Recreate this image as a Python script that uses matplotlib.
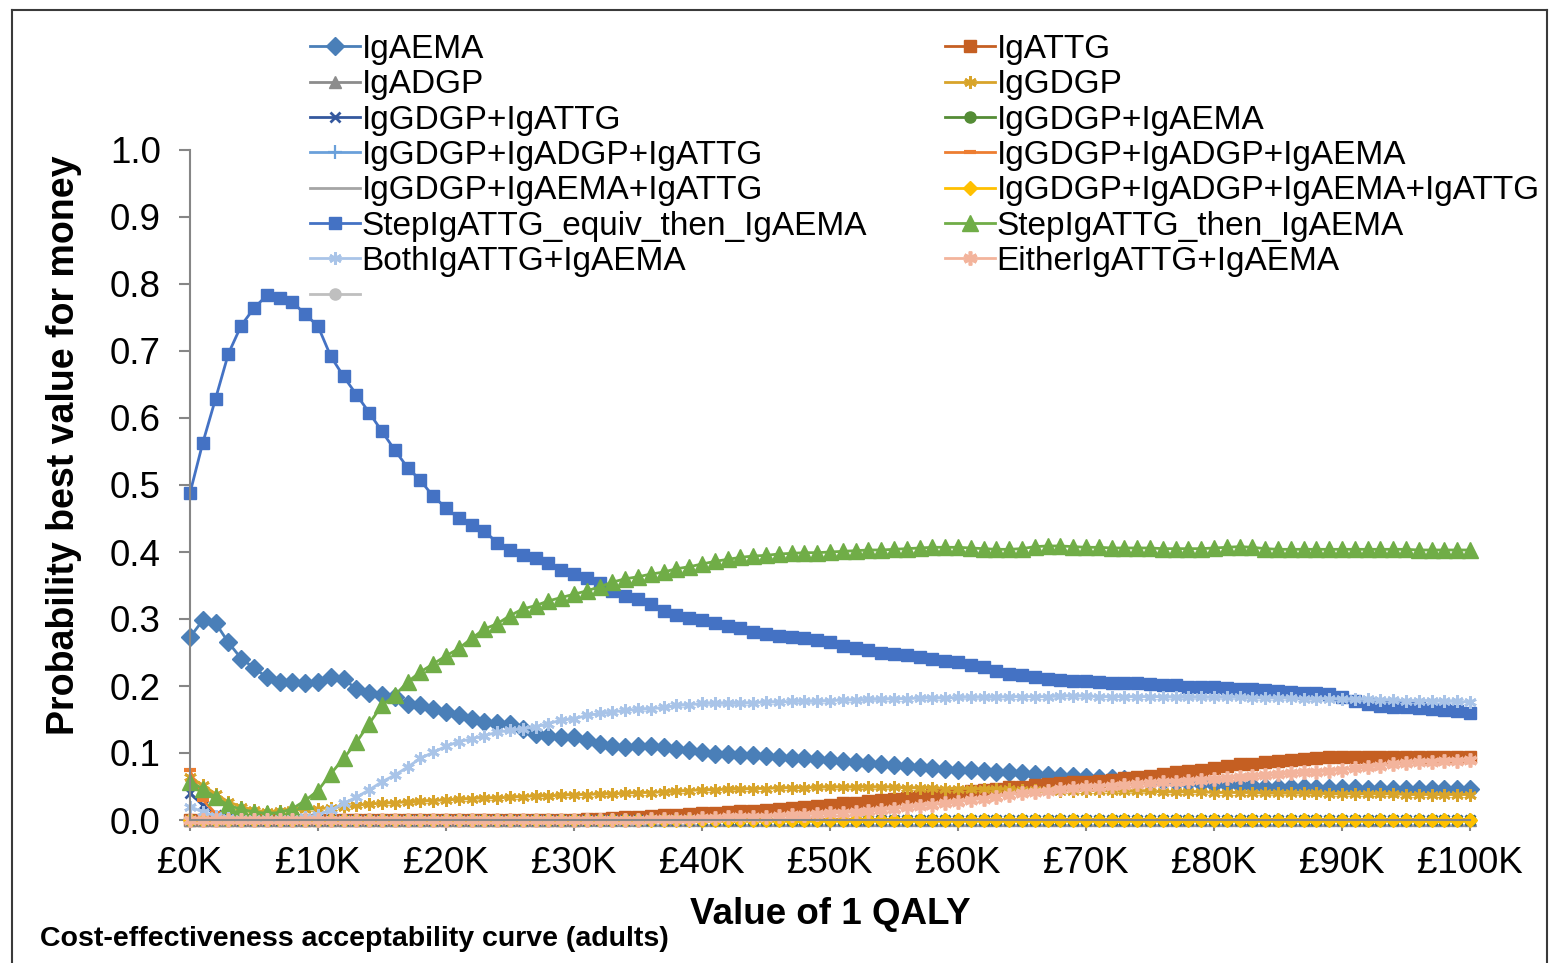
import matplotlib
matplotlib.use("Agg")
import matplotlib.pyplot as plt
from matplotlib.lines import Line2D
from matplotlib.ticker import FixedLocator, FuncFormatter

plt.rcParams['font.family'] = ['Liberation Sans', 'DejaVu Sans']

# x grid: value of 1 QALY in £ thousands
qaly_k = list(range(0, 101))

ig_aema = [0.273, 0.298, 0.294, 0.265, 0.241, 0.227, 0.213, 0.206, 0.206, 0.205,
           0.206, 0.213, 0.210, 0.196, 0.189, 0.186, 0.184, 0.173, 0.171, 0.166,
           0.161, 0.157, 0.151, 0.146, 0.145, 0.143, 0.136, 0.129, 0.126, 0.124,
           0.124, 0.119, 0.114, 0.110, 0.109, 0.111, 0.111, 0.109, 0.106, 0.104,
           0.101, 0.099, 0.099, 0.097, 0.097, 0.095, 0.094, 0.093, 0.092, 0.091,
           0.089, 0.088, 0.086, 0.085, 0.083, 0.082, 0.081, 0.079, 0.077, 0.076,
           0.075, 0.074, 0.073, 0.072, 0.071, 0.070, 0.068, 0.067, 0.066, 0.065,
           0.064, 0.063, 0.062, 0.061, 0.060, 0.059, 0.058, 0.057, 0.056, 0.055,
           0.054, 0.053, 0.052, 0.051, 0.050, 0.050, 0.049, 0.049, 0.048, 0.048,
           0.048, 0.048, 0.047, 0.047, 0.047, 0.047, 0.047, 0.046, 0.046, 0.046,
           0.046]

ig_attg = [0.0] * 31 + [
           0.001, 0.002, 0.003, 0.004, 0.005, 0.006, 0.007, 0.008, 0.009,
           0.010, 0.011, 0.012, 0.013, 0.014, 0.015, 0.016, 0.018, 0.019, 0.021,
           0.023, 0.025, 0.026, 0.028, 0.030, 0.031, 0.033, 0.035, 0.037, 0.039,
           0.041, 0.043, 0.045, 0.047, 0.049, 0.050, 0.052, 0.053, 0.055, 0.056,
           0.057, 0.058, 0.060, 0.062, 0.064, 0.066, 0.069, 0.071, 0.073, 0.075,
           0.077, 0.080, 0.083, 0.084, 0.086, 0.088, 0.090, 0.091, 0.093, 0.094,
           0.094, 0.094, 0.094, 0.094, 0.094, 0.094, 0.094, 0.094, 0.094, 0.094,
           0.094]

ig_adgp = [0.0] * 101

ig_gdgp = [0.064, 0.052, 0.039, 0.027, 0.020, 0.015, 0.012, 0.014, 0.015, 0.016,
           0.017, 0.018, 0.020, 0.022, 0.024, 0.025, 0.026, 0.027, 0.028, 0.029,
           0.030, 0.031, 0.032, 0.033, 0.033, 0.034, 0.035, 0.036, 0.036, 0.037,
           0.038, 0.038, 0.039, 0.039, 0.040, 0.041, 0.041, 0.042, 0.043, 0.044,
           0.045, 0.045, 0.046, 0.046, 0.047, 0.047, 0.048, 0.048, 0.048, 0.049,
           0.049, 0.049, 0.049, 0.049, 0.049, 0.049, 0.048, 0.048, 0.048, 0.047,
           0.047, 0.047, 0.046, 0.046, 0.046, 0.045, 0.045, 0.045, 0.044, 0.044,
           0.044, 0.044, 0.043, 0.043, 0.043, 0.043, 0.042, 0.042, 0.042, 0.042,
           0.041, 0.041, 0.041, 0.041, 0.040, 0.040, 0.040, 0.040, 0.040, 0.039,
           0.039, 0.039, 0.039, 0.039, 0.039, 0.038, 0.038, 0.038, 0.038, 0.038,
           0.038]

gdgp_attg = [0.040, 0.022, 0.008, 0.003] + [0.0] * 97
gdgp_aema = [0.0] * 101
gdgp_adgp_attg = [0.0] * 101
gdgp_adgp_aema = [0.074, 0.030, 0.010, 0.002] + [0.0] * 97
gdgp_aema_attg = [0.0] * 101
gdgp_adgp_aema_attg = [0.0] * 101

step_equiv = [0.488, 0.563, 0.629, 0.696, 0.738, 0.764, 0.783, 0.779, 0.773, 0.755,
              0.737, 0.692, 0.662, 0.635, 0.608, 0.580, 0.552, 0.526, 0.507, 0.483,
              0.466, 0.450, 0.440, 0.431, 0.414, 0.403, 0.396, 0.391, 0.383, 0.373,
              0.367, 0.361, 0.353, 0.342, 0.335, 0.330, 0.322, 0.312, 0.306, 0.302,
              0.299, 0.294, 0.290, 0.287, 0.281, 0.277, 0.275, 0.273, 0.272, 0.268,
              0.265, 0.260, 0.257, 0.254, 0.250, 0.248, 0.247, 0.244, 0.241, 0.238,
              0.236, 0.232, 0.228, 0.222, 0.218, 0.216, 0.213, 0.211, 0.209, 0.208,
              0.207, 0.206, 0.205, 0.205, 0.204, 0.203, 0.202, 0.201, 0.199, 0.199,
              0.198, 0.197, 0.196, 0.195, 0.194, 0.192, 0.191, 0.190, 0.189, 0.188,
              0.184, 0.178, 0.173, 0.170, 0.169, 0.168, 0.167, 0.165, 0.164, 0.163,
              0.159]

step_then = [0.057, 0.047, 0.034, 0.022, 0.016, 0.012, 0.010, 0.011, 0.017, 0.029,
             0.044, 0.069, 0.092, 0.116, 0.144, 0.171, 0.186, 0.206, 0.221, 0.233,
             0.245, 0.256, 0.271, 0.285, 0.293, 0.305, 0.315, 0.320, 0.327, 0.332,
             0.337, 0.342, 0.348, 0.355, 0.360, 0.363, 0.367, 0.370, 0.375, 0.378,
             0.382, 0.386, 0.389, 0.392, 0.394, 0.395, 0.397, 0.398, 0.399, 0.399,
             0.400, 0.401, 0.402, 0.403, 0.403, 0.404, 0.405, 0.406, 0.407, 0.407,
             0.407, 0.406, 0.405, 0.404, 0.404, 0.405, 0.408, 0.409, 0.409, 0.408,
             0.407, 0.407, 0.406, 0.406, 0.406, 0.406, 0.405, 0.405, 0.405, 0.405,
             0.406, 0.407, 0.408, 0.407, 0.405, 0.404, 0.404, 0.404, 0.404, 0.404,
             0.404, 0.404, 0.404, 0.404, 0.404, 0.404, 0.403, 0.403, 0.403, 0.403,
             0.403]

both = [0.020, 0.012, 0.006, 0.003, 0.002, 0.001, 0.001, 0.001, 0.002, 0.004,
        0.008, 0.015, 0.025, 0.034, 0.045, 0.057, 0.067, 0.079, 0.092, 0.101,
        0.110, 0.117, 0.121, 0.126, 0.131, 0.134, 0.136, 0.139, 0.144, 0.149,
        0.151, 0.156, 0.159, 0.161, 0.164, 0.165, 0.166, 0.168, 0.171, 0.172,
        0.174, 0.174, 0.174, 0.174, 0.175, 0.176, 0.176, 0.177, 0.177, 0.177,
        0.178, 0.179, 0.179, 0.180, 0.180, 0.181, 0.181, 0.182, 0.182, 0.182,
        0.183, 0.183, 0.183, 0.183, 0.184, 0.184, 0.184, 0.184, 0.185, 0.185,
        0.185, 0.184, 0.184, 0.184, 0.184, 0.184, 0.184, 0.183, 0.183, 0.183,
        0.183, 0.183, 0.183, 0.182, 0.182, 0.182, 0.182, 0.181, 0.181, 0.181,
        0.180, 0.180, 0.180, 0.179, 0.179, 0.178, 0.178, 0.178, 0.177, 0.177,
        0.176]

either = [0.0] * 36 + [
          0.001, 0.001, 0.002, 0.002,
          0.003, 0.003, 0.004, 0.004, 0.005, 0.005, 0.006, 0.007, 0.008, 0.009,
          0.010, 0.011, 0.012, 0.013, 0.015, 0.017, 0.019, 0.021, 0.023, 0.025,
          0.027, 0.030, 0.032, 0.035, 0.038, 0.040, 0.042, 0.044, 0.046, 0.048,
          0.049, 0.050, 0.051, 0.052, 0.053, 0.055, 0.056, 0.057, 0.058, 0.060,
          0.061, 0.062, 0.064, 0.065, 0.067, 0.068, 0.070, 0.071, 0.072, 0.073,
          0.075, 0.077, 0.079, 0.081, 0.083, 0.085, 0.086, 0.087, 0.088, 0.088,
          0.089]

blank_series = []

series_names = ["IgAEMA", "IgATTG", "IgADGP", "IgGDGP", "IgGDGP+IgATTG",
                "IgGDGP+IgAEMA", "IgGDGP+IgADGP+IgATTG", "IgGDGP+IgADGP+IgAEMA",
                "IgGDGP+IgAEMA+IgATTG", "IgGDGP+IgADGP+IgAEMA+IgATTG",
                "StepIgATTG_equiv_then_IgAEMA", "StepIgATTG_then_IgAEMA",
                "BothIgATTG+IgAEMA", "EitherIgATTG+IgAEMA", ""]
series_values = [ig_aema, ig_attg, ig_adgp, ig_gdgp, gdgp_attg, gdgp_aema,
                 gdgp_adgp_attg, gdgp_adgp_aema, gdgp_aema_attg,
                 gdgp_adgp_aema_attg, step_equiv, step_then, both, either,
                 blank_series]

styles = [
    dict(color="#4a7fb8", marker="D", ms=9),
    dict(color="#c55f22", marker="s", ms=8.5),
    dict(color="#8c8c8c", marker="^", ms=8),
    dict(color="#d8a42a", marker=(6, 2, 0), ms=9, mew=2.0),
    dict(color="#34589e", marker="x", ms=7, mew=2),
    dict(color="#548c35", marker="o", ms=8),
    dict(color="#6aa0da", marker="+", ms=10, mew=1.6),
    dict(color="#ed7d31", marker="_", ms=8, mew=3),
    dict(color="#a5a5a5", marker=None, ms=0),
    dict(color="#ffc000", marker="D", ms=7),
    dict(color="#4472c4", marker="s", ms=9),
    dict(color="#70ad47", marker="^", ms=11),
    dict(color="#a9c4e8", marker=(6, 2, 0), ms=9, mew=2.0),
    dict(color="#f3b49c", marker=(6, 2, 0), ms=10, mew=2.6),
    dict(color="#bfbfbf", marker="o", ms=8),
]

W, H = 1549, 963
fig = plt.figure(figsize=(W / 100, H / 100), dpi=100)
ax = fig.add_axes([190 / W, 1 - 820 / H, 1280 / W, 670 / H])

handles = []
for name, vals, st in zip(series_names, series_values, styles):
    xs = [k * 1000 for k in qaly_k[:len(vals)]]
    line, = ax.plot(xs, vals, color=st["color"], lw=2.0, marker=st["marker"],
                    markersize=st["ms"], markeredgewidth=st.get("mew", 1.0),
                    markerfacecolor=st["color"], markeredgecolor=st["color"],
                    clip_on=False)
    handles.append(line)

ax.set_xlim(0, 100000)
ax.set_ylim(0, 1.0)
ax.xaxis.set_major_locator(FixedLocator([k * 1000 for k in range(0, 101, 10)]))
ax.xaxis.set_major_formatter(FuncFormatter(lambda v, p: "£%dK" % round(v / 1000)))
ax.yaxis.set_major_locator(FixedLocator([i / 10 for i in range(11)]))
ax.yaxis.set_major_formatter(FuncFormatter(lambda v, p: "%.1f" % v))

for s in ["top", "right"]:
    ax.spines[s].set_visible(False)
for s in ["left", "bottom"]:
    ax.spines[s].set_color("#868686")
    ax.spines[s].set_linewidth(1.5)
ax.tick_params(axis="both", colors="#868686", labelcolor="black", width=1.5,
               length=8, labelsize=26.5)
ax.tick_params(axis="x", pad=11)
ax.tick_params(axis="y", pad=13)

ax.set_xlabel("Value of 1 QALY", fontsize=26.5, fontweight="bold", labelpad=11)
fig.text(64 / W, 1 - 445 / H, "Probability best value for money", rotation=90,
         fontsize=27, fontweight="bold", ha="center", va="center")
fig.text(40 / W, 1 - 939 / H, "Cost-effectiveness acceptability curve (adults)",
         fontsize=20.5, fontweight="bold", ha="left", va="center")

idx1 = [0, 2, 4, 6, 8, 10, 12, 14]
idx2 = [1, 3, 5, 7, 9, 11, 13]
leg_kw = dict(frameon=False, fontsize=24, handlelength=1.5, handletextpad=0.05,
              borderpad=0, borderaxespad=0, labelspacing=0.13, loc="upper left",
              numpoints=1)
leg1 = fig.legend(handles=[handles[i] for i in idx1],
                  labels=[series_names[i] for i in idx1],
                  bbox_to_anchor=(310 / W, 1 - 34 / H), **leg_kw)
leg2 = fig.legend(handles=[handles[i] for i in idx2],
                  labels=[series_names[i] for i in idx2],
                  bbox_to_anchor=(945 / W, 1 - 34 / H), **leg_kw)

# chart area border
fig.add_artist(Line2D([12 / W, 1547 / W], [1 - 10 / H, 1 - 10 / H],
                      transform=fig.transFigure, color="#3a3a3a", lw=1.5))
fig.add_artist(Line2D([12 / W, 12 / W], [1 - 10 / H, 0],
                      transform=fig.transFigure, color="#3a3a3a", lw=1.5))
fig.add_artist(Line2D([1547 / W, 1547 / W], [1 - 10 / H, 0],
                      transform=fig.transFigure, color="#3a3a3a", lw=1.5))

fig.savefig("out.png", dpi=100)
